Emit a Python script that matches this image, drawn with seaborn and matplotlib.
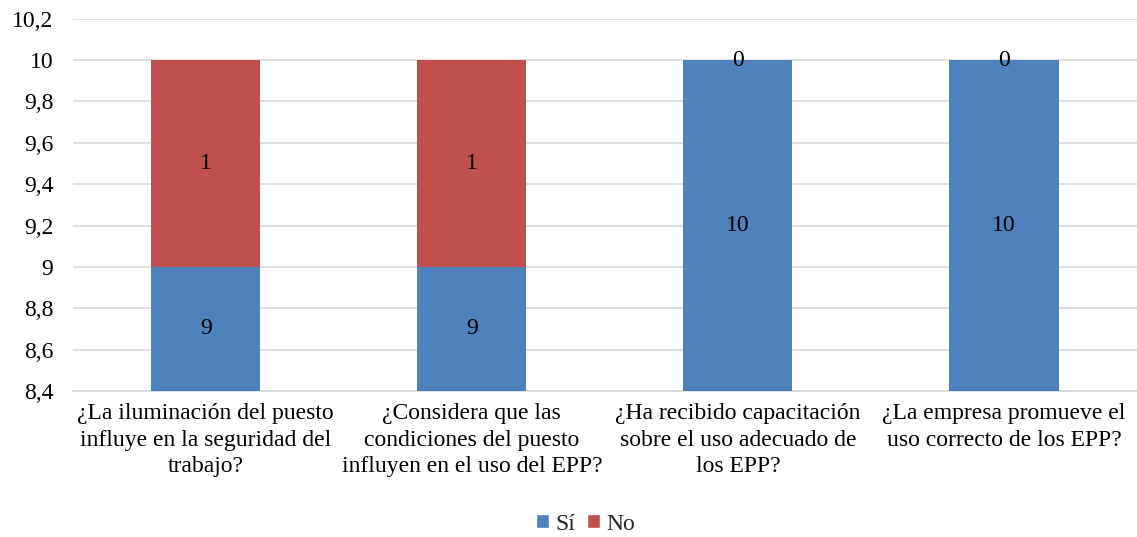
import matplotlib
matplotlib.use("Agg")
import matplotlib.pyplot as plt
import seaborn as sns
import pandas as pd
from matplotlib.patches import Patch
from matplotlib.ticker import FuncFormatter

categories = [
    "¿La iluminación del puesto\ninfluye en la seguridad del\ntrabajo?",
    "¿Considera que las\ncondiciones del puesto\ninfluyen en el uso del EPP?",
    "¿Ha recibido capacitación\nsobre el uso adecuado de\nlos EPP?",
    "¿La empresa promueve el\nuso correcto de los EPP?",
]
si_values = [9, 9, 10, 10]
no_values = [1, 1, 0, 0]
y_ticks = [8.4, 8.6, 8.8, 9.0, 9.2, 9.4, 9.6, 9.8, 10.0, 10.2]

BLUE = "#4F81BD"
RED = "#C0504D"
FS = 17

sns.set_theme(style="white")
plt.rcParams["font.family"] = ["Liberation Serif", "DejaVu Serif"]
plt.rcParams["font.size"] = FS

df = pd.DataFrame({
    "pregunta": categories,
    "si": si_values,
    "no": no_values,
})
df["total"] = df["si"] + df["no"]

fig = plt.figure(figsize=(11.37, 5.37), dpi=100)
ax = fig.add_axes([0.064, 0.272, 0.936, 0.693])

sns.barplot(data=df, x="pregunta", y="total", color=RED, width=0.41,
            saturation=1, linewidth=0, ax=ax, zorder=2)
sns.barplot(data=df, x="pregunta", y="si", color=BLUE, width=0.41,
            saturation=1, linewidth=0, ax=ax, zorder=3)

ymin, ymax = 8.4, 10.2
ax.set_ylim(ymin, ymax)
ax.set_yticks(y_ticks)
ax.yaxis.set_major_formatter(FuncFormatter(
    lambda v, _: (f"{v:.1f}".rstrip("0").rstrip(".")).replace(".", ",")))
ax.grid(axis="y", color="#d9d9d9", linewidth=1.2, zorder=0)
ax.set_axisbelow(True)

for s in ["top", "right", "left"]:
    ax.spines[s].set_visible(False)
ax.spines["bottom"].set_color("#d9d9d9")
ax.spines["bottom"].set_linewidth(1.2)
ax.tick_params(axis="y", length=0, labelsize=FS, colors="black", pad=14)
ax.tick_params(axis="x", length=0, labelsize=FS, colors="black", pad=9)
ax.set_xlabel("")
ax.set_ylabel("")
ax.set_xticks(range(len(categories)))
ax.set_xticklabels(categories, fontsize=FS, linespacing=1.33)

for i, (s, n) in enumerate(zip(si_values, no_values)):
    lo = ymin
    hi = min(s, ymax)
    ax.text(i, (lo + hi) / 2, f"{s}", ha="center", va="center",
            fontsize=FS, color="black", zorder=5)
    top = s + n
    ax.text(i, (s + min(top, ymax)) / 2, f"{n}", ha="center", va="center",
            fontsize=FS, color="black", zorder=5)

handles = [Patch(facecolor=BLUE, label="Sí"), Patch(facecolor=RED, label="No")]
fig.legend(handles=handles, loc="center", bbox_to_anchor=(0.515, 0.024),
           ncol=2, frameon=False, fontsize=FS, handlelength=0.55,
           handleheight=0.55, handletextpad=0.25, columnspacing=0.5)

fig.savefig("out.png", dpi=100)
